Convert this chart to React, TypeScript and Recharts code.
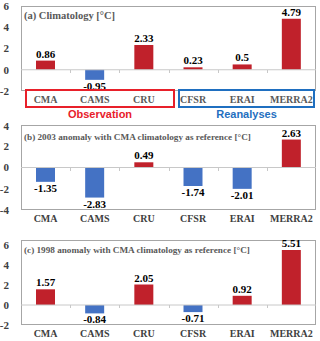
import { BarChart, Bar, XAxis, YAxis, Cell, ReferenceLine, LabelList } from 'recharts';

const categories = ['CMA', 'CAMS', 'CRU', 'CFSR', 'ERAI', 'MERRA2'];
const climatology = [0.86, -0.95, 2.33, 0.23, 0.5, 4.79];
const anomaly2003 = [-1.35, -2.83, 0.49, -1.74, -2.01, 2.63];
const anomaly1998 = [1.57, -0.84, 2.05, -0.71, 0.92, 5.51];
const ticksA = [-2, 0, 2, 4, 6];
const ticksB = [-4, -2, 0, 2, 4];
const ticksC = [-2, 0, 2, 4, 6];

const RED = '#c0212b';
const BLUE = '#4472c4';
const SERIF = '"Liberation Serif", "Times New Roman", serif';

function ValueLabel(props: any) {
  const { x, y, width, height, value } = props;
  const top = Math.min(y, y + height);
  const bottom = Math.max(y, y + height);
  const cx = x + width / 2;
  const ty = value >= 0 ? top - 3 : bottom + 10;
  return (
    <text x={cx} y={ty} textAnchor="middle" fontFamily={SERIF} fontWeight="bold" fontSize={11} fill="#000">
      {value}
    </text>
  );
}

interface PanelProps {
  top: number;
  values: number[];
  ticks: number[];
  domain: [number, number];
  title: string;
  titleSize: number;
  plotTop: number;
  plotBottom: number;
  axisHeight: number;
  labelColor: string;
  titleY: number;
}

function Panel({ top, values, ticks, domain, title, titleSize, plotTop, plotBottom, axisHeight, labelColor, titleY }: PanelProps) {
  const data = categories.map((name, i) => ({ name, value: values[i] }));
  const height = plotBottom - top + axisHeight;
  // zero line for the tick marks between categories
  const zeroY = plotTop + ((domain[1] - 0) / (domain[1] - domain[0])) * (plotBottom - plotTop);
  const band = 295 / categories.length;
  return (
    <>
      <div
        style={{
          position: 'absolute',
          left: 21,
          top: plotTop,
          width: 295,
          height: plotBottom - plotTop,
          border: '1px solid #a6a6a6',
          boxSizing: 'border-box',
        }}
      />
      {categories.slice(1).map((c, i) => (
        <div
          key={c}
          style={{
            position: 'absolute',
            left: Math.round(21 + band * (i + 1)),
            top: Math.round(zeroY),
            width: 1,
            height: 3,
            background: '#c8c8c8',
          }}
        />
      ))}
      <div style={{ position: 'absolute', left: 0, top }}>
        <BarChart
          width={320}
          height={height}
          data={data}
          margin={{ top: plotTop - top, right: 4, left: 0, bottom: 0 }}
        >
          <XAxis
            dataKey="name"
            height={axisHeight}
            axisLine={false}
            tickLine={false}
            tickSize={0}
            tickMargin={5}
            interval={0}
            tick={{ fontFamily: SERIF, fontWeight: 'bold', fontSize: 10, fill: labelColor }}
          />
          <YAxis
            width={21}
            domain={domain}
            ticks={ticks}
            axisLine={false}
            tickLine={false}
            tickSize={0}
            tickMargin={12}
            allowDataOverflow
            tick={{ fontFamily: SERIF, fontWeight: 'bold', fontSize: 11, fill: '#404040' }}
          />
          <ReferenceLine y={0} stroke="#c8c8c8" />
          <Bar dataKey="value" barSize={19} isAnimationActive={false}>
            {data.map((d, i) => (
              <Cell key={`cell-${i}`} fill={d.value >= 0 ? RED : BLUE} />
            ))}
            <LabelList dataKey="value" content={ValueLabel} />
          </Bar>
        </BarChart>
      </div>
      <div
        style={{
          position: 'absolute',
          left: 24,
          top: titleY - 7,
          fontFamily: SERIF,
          fontWeight: 'bold',
          fontSize: titleSize,
          lineHeight: '14px',
          color: '#595959',
          whiteSpace: 'nowrap',
        }}
      >
        {title}
      </div>
    </>
  );
}

export default function App() {
  return (
    <div style={{ position: 'absolute', left: 0, top: 0, width: 320, height: 341, background: '#fff', overflow: 'hidden' }}>
      <Panel
        top={0}
        values={climatology}
        ticks={ticksA}
        domain={[-2, 6]}
        title="(a) Climatology [°C]"
        titleSize={10.5}
        plotTop={6}
        plotBottom={91}
        axisHeight={20}
        labelColor="#595959"
        titleY={16}
      />
      <div style={{ position: 'absolute', left: 25, top: 89, width: 150, height: 19, border: '2px solid #e8202a', boxSizing: 'border-box' }} />
      <div style={{ position: 'absolute', left: 178, top: 89, width: 137, height: 19, border: '2px solid #1f6fc0', boxSizing: 'border-box' }} />
      <div style={{ position: 'absolute', left: 25, top: 107, width: 150, textAlign: 'center', fontFamily: '"Liberation Sans", Arial, sans-serif', fontWeight: 'bold', fontSize: 11, lineHeight: '14px', color: '#e8202a' }}>
        Observation
      </div>
      <div style={{ position: 'absolute', left: 178, top: 107, width: 137, textAlign: 'center', fontFamily: '"Liberation Sans", Arial, sans-serif', fontWeight: 'bold', fontSize: 11, lineHeight: '14px', color: '#1f6fc0' }}>
        Reanalyses
      </div>
      <Panel
        top={120}
        values={anomaly2003}
        ticks={ticksB}
        domain={[-4, 4]}
        title="(b) 2003 anomaly with CMA climatology as reference [°C]"
        titleSize={9.2}
        plotTop={125}
        plotBottom={210}
        axisHeight={20}
        labelColor="#404040"
        titleY={137}
      />
      <Panel
        top={235}
        values={anomaly1998}
        ticks={ticksC}
        domain={[-2, 6.5]}
        title="(c) 1998 anomaly with CMA climatology as reference [°C]"
        titleSize={9.2}
        plotTop={240}
        plotBottom={325}
        axisHeight={16}
        labelColor="#404040"
        titleY={250}
      />
    </div>
  );
}
